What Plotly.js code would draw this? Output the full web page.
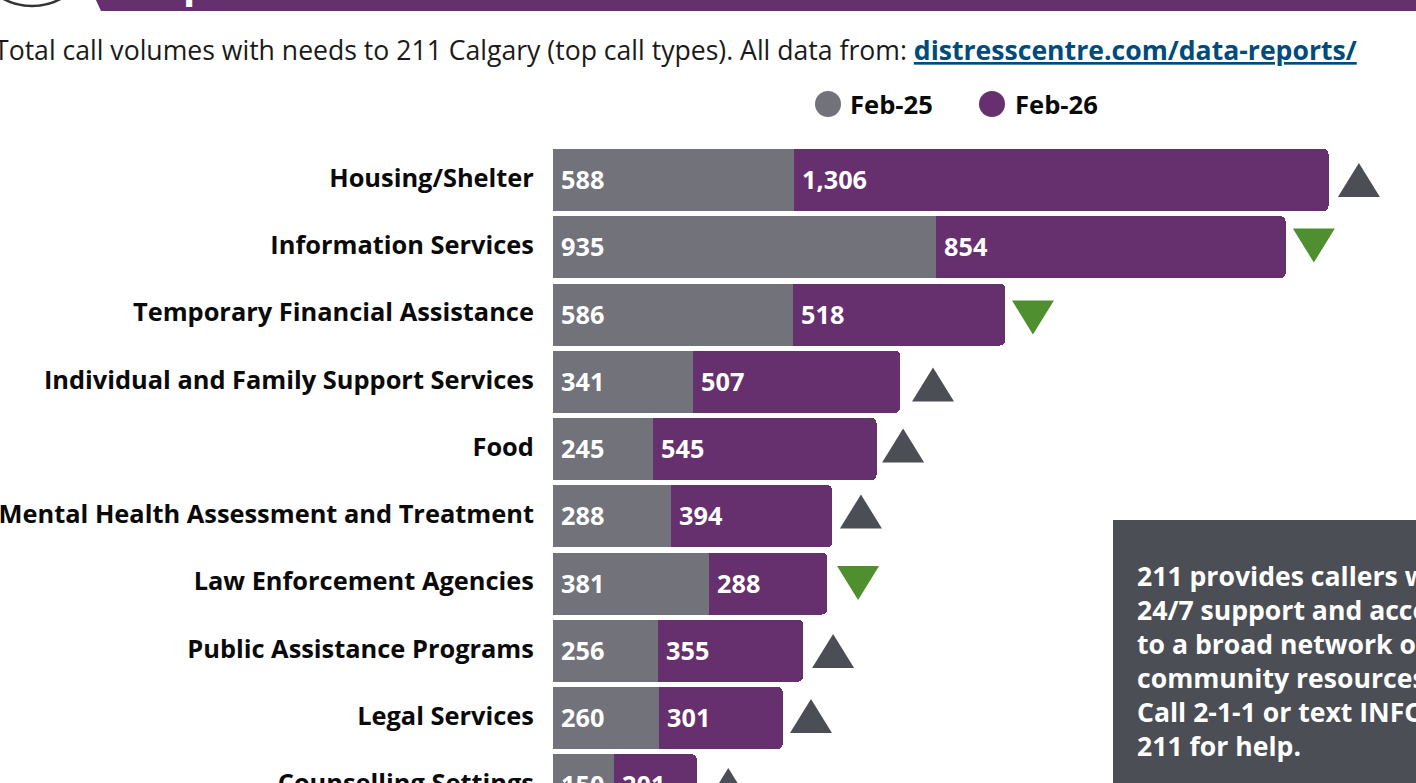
<!DOCTYPE html>
<html>
<head>
<meta charset="utf-8">
<script src="https://cdn.plot.ly/plotly-3.0.1.min.js"></script>
<style>
html,body{margin:0;padding:0;background:#fff;overflow:hidden;width:1416px;height:783px}
#wrap{position:absolute;left:0;top:0;width:1416px;height:783px;overflow:hidden}
#chart{position:absolute;left:-40px;top:-40px;width:1600px;height:900px}
</style>
</head>
<body>
<div id="wrap"><div id="chart"></div></div>
<script>
const categories = ["Housing/Shelter","Information Services","Temporary Financial Assistance","Individual and Family Support Services","Food","Mental Health Assessment and Treatment","Law Enforcement Agencies","Public Assistance Programs","Legal Services","Counselling Settings"];
const feb25 = [588,935,586,341,245,288,381,256,260,150];
const feb26 = [1306,854,518,507,545,394,288,355,301,201];
const trendDirection = ["up","down","down","up","up","up","down","up","up","up"];
const trendPosition = [1968,1858,1172,928,855,752,745,684,630,428];
const trendRow = [0,0.974,2.045,3.041,3.948,4.929,5.993,7.004,7.970,8.996];
const legendNames = ["Feb-25","Feb-26"];
const subtitle = "Total call volumes with needs to 211 Calgary (top call types). All data from: ";
const linkText = "distresscentre.com/data-reports/";
const panelLines = ["211 provides callers with","24/7 support and access","to a broad network of","community resources.","Call 2-1-1 or text INFO to","211 for help."];

const GREY="#71727a", PURPLE="#662f6e", DARK="#4b4e55", GREEN="#4f8f2f";
const FONT="Open Sans";
const OX=40, OY=40, W=1600, H=900;
const L=553+OX;
const pxPerUnit=0.4095, pitch=67.25, y0=180+OY;
const xr=[0,(W-L)/pxPerUnit];
const yr=[(H-y0)/pitch,-y0/pitch];
const py=y=>1-(y+OY)/H, pxx=x=>(x+OX-L)/(W-L);

const ann=[];
categories.forEach((c,i)=>{
  ann.push({xref:'x',yref:'y',x:0,y:c,text:"<b>"+feb25[i].toLocaleString('en-US')+"</b>",showarrow:false,xanchor:'left',xshift:7,yshift:1,font:{family:FONT,size:25.3,color:'#fff'},borderpad:0});
  ann.push({xref:'x',yref:'y',x:feb25[i],y:c,text:"<b>"+feb26[i].toLocaleString('en-US')+"</b>",showarrow:false,xanchor:'left',xshift:7,yshift:1,font:{family:FONT,size:25.3,color:'#fff'},borderpad:0});
});
ann.push({xref:'paper',yref:'paper',x:pxx(-8),y:py(50),xanchor:'left',yanchor:'middle',showarrow:false,
  text:subtitle+'<b><span style="color:#004b7d;text-decoration:underline">'+linkText+'</span></b>',font:{family:FONT,size:26.6,color:'#1a1a1a'}});
[[848,legendNames[0]],[1013,legendNames[1]]].forEach(a=>ann.push({xref:'paper',yref:'paper',x:pxx(a[0]),y:py(104),xanchor:'left',yanchor:'middle',showarrow:false,text:"<b>"+a[1]+"</b>",font:{family:FONT,size:25.6,color:'#0a0a0a'}}));
panelLines.forEach((t,i)=>ann.push({xref:'paper',yref:'paper',x:pxx(1135),y:py(576+34*i),xanchor:'left',yanchor:'middle',align:'left',showarrow:false,
  text:"<b>"+t+"</b>",font:{family:FONT,size:26.6,color:'#fff'}}));
ann.push({xref:'paper',yref:'paper',x:pxx(133),y:py(-18),xanchor:'left',yanchor:'middle',showarrow:false,text:"<b>Top</b>",font:{family:FONT,size:40,color:'#fff'}});

const shapes=[
 {type:'path',xref:'paper',yref:'paper',path:`M${pxx(95)},${py(-2)} L${pxx(1560)},${py(-2)} L${pxx(1560)},${py(11)} L${pxx(101)},${py(11)} Z`,fillcolor:PURPLE,line:{width:0},layer:'below'},
 {type:'circle',xref:'paper',yref:'paper',x0:pxx(815),x1:pxx(841),y0:py(117),y1:py(91),fillcolor:GREY,line:{width:0}},
 {type:'circle',xref:'paper',yref:'paper',x0:pxx(979),x1:pxx(1005),y0:py(117),y1:py(91),fillcolor:PURPLE,line:{width:0}},
 {type:'rect',xref:'paper',yref:'paper',x0:pxx(1113),x1:pxx(1560),y0:py(860),y1:py(520),fillcolor:DARK,line:{width:0},layer:'below'},
 {type:'circle',xref:'paper',yref:'paper',x0:pxx(-28),x1:pxx(92),y0:py(6),y1:py(-114),fillcolor:'rgba(0,0,0,0)',line:{width:2.5,color:'#333'}}
];
categories.forEach((c,i)=>{
  const up=trendDirection[i]==="up";
  shapes.push({type:'path',xref:'x',yref:'y',xsizemode:'pixel',ysizemode:'pixel',xanchor:trendPosition[i],yanchor:trendRow[i],
    path: up? 'M-21,-17 L21,-17 L0,17 Z':'M-21,17 L21,17 L0,-17 Z',
    fillcolor: up?DARK:GREEN,line:{width:0}});
});

const data=[
 {type:'bar',orientation:'h',name:legendNames[0],y:categories,x:feb25,marker:{color:GREY,line:{width:0}},showlegend:false,hoverinfo:'x+y'},
 {type:'bar',orientation:'h',name:legendNames[1],y:categories,x:feb26,marker:{color:PURPLE,line:{width:0}},showlegend:false,hoverinfo:'x+y'}
];
const layout={
 width:W,height:H,paper_bgcolor:'#fff',plot_bgcolor:'rgba(0,0,0,0)',
 margin:{l:L,r:0,t:0,b:0,pad:0},
 barmode:'stack',bargap:0.078,barcornerradius:5,showlegend:false,
 font:{family:FONT},
 xaxis:{range:xr,visible:false,fixedrange:true},
 yaxis:{type:'category',categoryorder:'array',categoryarray:categories,range:yr,showgrid:false,zeroline:false,showline:false,ticks:'outside',ticklen:13,tickcolor:'rgba(0,0,0,0)',tickfont:{family:FONT,size:25.4,color:'#0a0a0a',weight:700},ticklabelshift:2,fixedrange:true},
 annotations:ann,shapes:shapes
};
Plotly.newPlot('chart',data,layout,{displayModeBar:false,staticPlot:true});
</script>
</body>
</html>
